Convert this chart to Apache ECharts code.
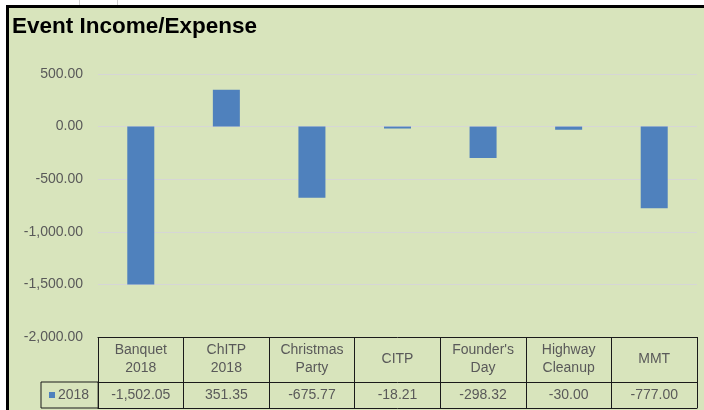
<!DOCTYPE html>
<html>
<head>
<meta charset="utf-8">
<script src="https://cdn.jsdelivr.net/npm/echarts@6/dist/echarts.min.js"></script>
<style>
  body { margin: 0; background: #fff; }
  #frame { position: absolute; left: 6px; top: 5px; width: 720px; height: 420px;
           border-left: 3px solid #000; border-top: 3px solid #000; background: #d8e4bc; }
  .cell { position: absolute; top: 0; width: 1px; height: 5px; background: #d0d0d0; }
  #chart { position: absolute; left: 0; top: 0; width: 704px; height: 410px; }
</style>
</head>
<body>
<div class="cell" style="left:79px"></div>
<div class="cell" style="left:117px"></div>
<div id="frame"></div>
<div id="chart"></div>
<script>
// chart data
var categories = ['Banquet\n2018', 'ChITP\n2018', 'Christmas\nParty', 'CITP', "Founder's\nDay", 'Highway\nCleanup', 'MMT'];
var values2018 = [-1502.05, 351.35, -675.77, -18.21, -298.32, -30.00, -777.00];
var seriesName = '2018';

function fmt(v) {
  var neg = v < 0;
  var s = Math.abs(v).toFixed(2).split('.');
  s[0] = s[0].replace(/\B(?=(\d{3})+(?!\d))/g, ',');
  return (neg ? '-' : '') + s[0] + '.' + s[1];
}

var chart = echarts.init(document.getElementById('chart'));
var labelColor = '#595959';
var tableLine = { color: '#1a1a1a', width: 1 };

var option = {
  backgroundColor: 'transparent',
  animation: false,
  textStyle: { fontFamily: 'Liberation Sans' },
  title: {
    text: 'Event Income/Expense',
    left: 12,
    top: 15,
    padding: 0,
    textStyle: { fontSize: 22.5, fontWeight: 'bold', color: '#000', fontFamily: 'Liberation Sans' }
  },
  legend: {
    data: [seriesName],
    left: 41,
    top: 382,
    orient: 'horizontal',
    padding: [6, 9, 6, 8],
    itemWidth: 6,
    itemHeight: 6,
    icon: 'rect',
    borderColor: '#1a1a1a',
    borderWidth: 1,
    textStyle: { fontSize: 14, color: labelColor, padding: [0, 0, 0, -2] }
  },
  grid: { left: 98, right: 7, top: 74, bottom: 73 },
  xAxis: [{
    type: 'category',
    data: categories,
    position: 'bottom',
    axisLine: { show: true, onZero: false, lineStyle: tableLine },
    axisTick: { show: true, length: 71, lineStyle: tableLine },
    axisLabel: { margin: 22, verticalAlign: 'middle', lineHeight: 18, fontSize: 14, color: labelColor, interval: 0 }
  }, {
    type: 'category',
    data: categories,
    position: 'bottom',
    offset: 45,
    axisLine: { show: true, onZero: false, lineStyle: tableLine },
    axisTick: { show: false },
    axisLabel: {
      margin: 13, verticalAlign: 'middle', fontSize: 14, color: labelColor, interval: 0,
      formatter: function (v, i) { return fmt(values2018[i]); }
    }
  }, {
    type: 'category',
    data: categories,
    position: 'bottom',
    offset: 71,
    axisLine: { show: true, onZero: false, lineStyle: tableLine },
    axisTick: { show: false },
    axisLabel: { show: false }
  }],
  yAxis: {
    type: 'value',
    min: -2000,
    max: 500,
    interval: 500,
    axisLine: { show: false },
    axisTick: { show: false },
    splitLine: { lineStyle: { color: '#d6d6d6', width: 1 } },
    axisLabel: { margin: 15, fontSize: 14, color: labelColor, formatter: fmt }
  },
  series: [{
    name: seriesName,
    type: 'bar',
    xAxisIndex: 0,
    data: values2018,
    barWidth: 27,
    itemStyle: { color: '#4f81bd' }
  }]
};
chart.setOption(option);
</script>
</body>
</html>
